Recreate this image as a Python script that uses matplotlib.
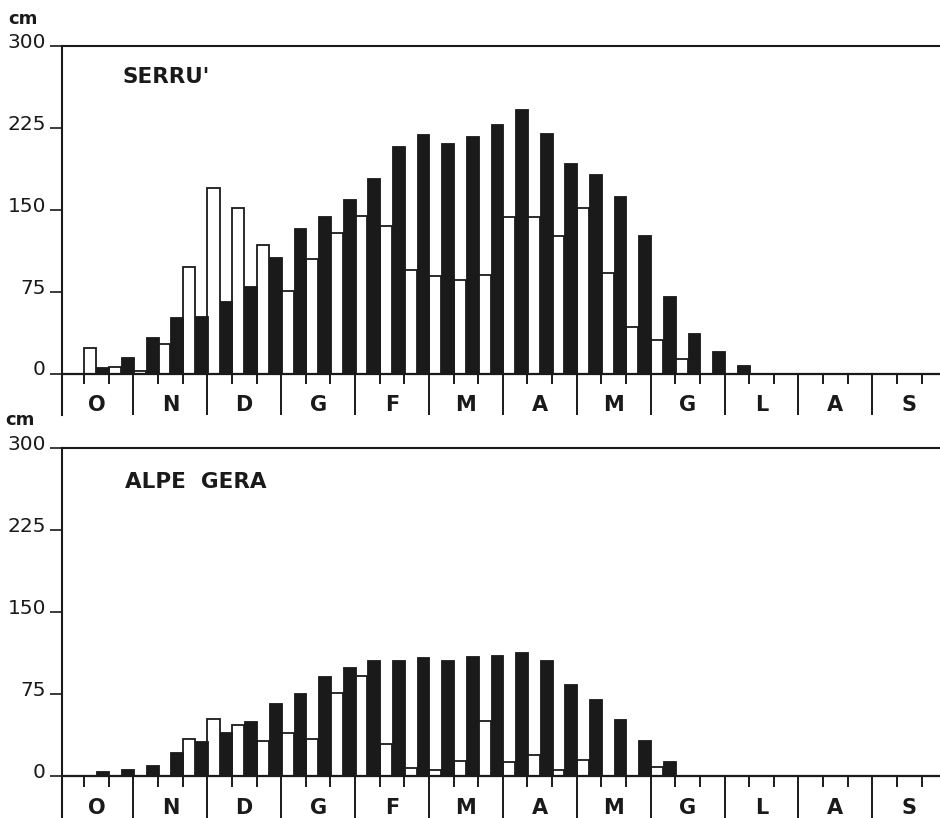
import matplotlib
matplotlib.use('Agg')
import matplotlib.pyplot as plt
import matplotlib.transforms as mtransforms
import numpy as np

plt.rcParams['font.family'] = ['DejaVu Sans']

months = ['O', 'N', 'D', 'G', 'F', 'M', 'A', 'M', 'G', 'L', 'A', 'S']
yticks = [0, 75, 150, 225, 300]

# 36 ten-day periods, October 1st decade -> September 3rd decade
serru_white = [0, 23, 6, 2, 27, 98, 170, 152, 118, 76, 105, 129,
               144, 135, 95, 89, 86, 90, 143, 143, 126, 152, 92, 43,
               31, 13, 0, 0, 0, 0, 0, 0, 0, 0, 0, 0]
serru_black = [0, 6, 15, 33, 52, 53, 66, 80, 107, 133, 144, 160,
               179, 208, 219, 211, 218, 229, 242, 220, 193, 183, 163, 127,
               71, 37, 21, 8, 0, 0, 0, 0, 0, 0, 0, 0]

alpe_white = [0, 0, 0, 0, 0, 34, 52, 47, 32, 40, 34, 76,
              92, 30, 8, 6, 14, 51, 13, 20, 6, 15, 0, 0,
              9, 0, 0, 0, 0, 0, 0, 0, 0, 0, 0, 0]
alpe_black = [0, 5, 7, 10, 22, 32, 41, 51, 67, 76, 92, 100,
              106, 106, 109, 106, 110, 111, 114, 106, 84, 71, 52, 33,
              14, 0, 0, 0, 0, 0, 0, 0, 0, 0, 0, 0]

W, H = 940, 818
INK = '#1a1a1a'

fig = plt.figure(figsize=(W / 100, H / 100), dpi=100)


def px_axes(top_px, bottom_px):
    return [62 / W, 1 - bottom_px / H, 1 - 62 / W, (bottom_px - top_px) / H]


def panel(ax, title, white, black, title_x, title_y):
    n = len(white)
    x = np.arange(n)
    ax.set_xlim(0.1, 35.75)
    ax.set_ylim(-38, 300)
    for s in ['right', 'bottom']:
        ax.spines[s].set_visible(False)
    for s in ['left', 'top']:
        ax.spines[s].set_linewidth(1.5)
        ax.spines[s].set_color(INK)
    w = np.array(white, dtype=float)
    b = np.array(black, dtype=float)
    mw = w > 0
    mb = b > 0
    ax.bar(x[mw] + 0.25, w[mw], width=0.5, color='white', edgecolor=INK,
           linewidth=1.3, zorder=2)
    ax.bar(x[mb] + 0.76, b[mb], width=0.52, color=INK, edgecolor=INK,
           linewidth=0.6, zorder=3)
    ax.axhline(0, color=INK, lw=1.6, zorder=4)
    seps = [3 * k for k in range(1, 12)]
    ax.vlines(seps, -38, 0, color=INK, lw=1.4, zorder=4)
    small = [3 * k + j for k in range(12) for j in (1, 2)]
    ax.vlines(small, -10, 0, color=INK, lw=1.4, zorder=4)
    for k, m in enumerate(months):
        ax.text(3 * k + 1.5, -28.5, m, ha='center', va='center',
                fontsize=15, fontweight='bold', color=INK)
    ax.set_xticks([])
    ax.set_yticks(yticks)
    ax.set_yticklabels([str(v) for v in yticks])
    ax.tick_params(axis='y', direction='out', length=8.6, width=1.2,
                   labelsize=14.5, pad=3, colors=INK)
    shift = mtransforms.ScaledTranslation(0, 4 / 72, fig.dpi_scale_trans)
    for lab in ax.get_yticklabels():
        lab.set_transform(lab.get_transform() + shift)
    ax.text(title_x, title_y, title, ha='left', va='center',
            fontsize=15.5, fontweight='bold', color=INK)


ax1 = fig.add_axes(px_axes(46, 415))
ax2 = fig.add_axes(px_axes(448, 818))
panel(ax1, "SERRU'", serru_white, serru_black, 2.54, 272)
panel(ax2, "ALPE  GERA", alpe_white, alpe_black, 2.66, 269)

fig.text(8 / W, 1 - 19 / H, 'cm', ha='left', va='center', fontsize=13,
         fontweight='bold', color=INK)
fig.text(5 / W, 1 - 420 / H, 'cm', ha='left', va='center', fontsize=13,
         fontweight='bold', color=INK)

fig.savefig('out.png', dpi=100, facecolor='white')
